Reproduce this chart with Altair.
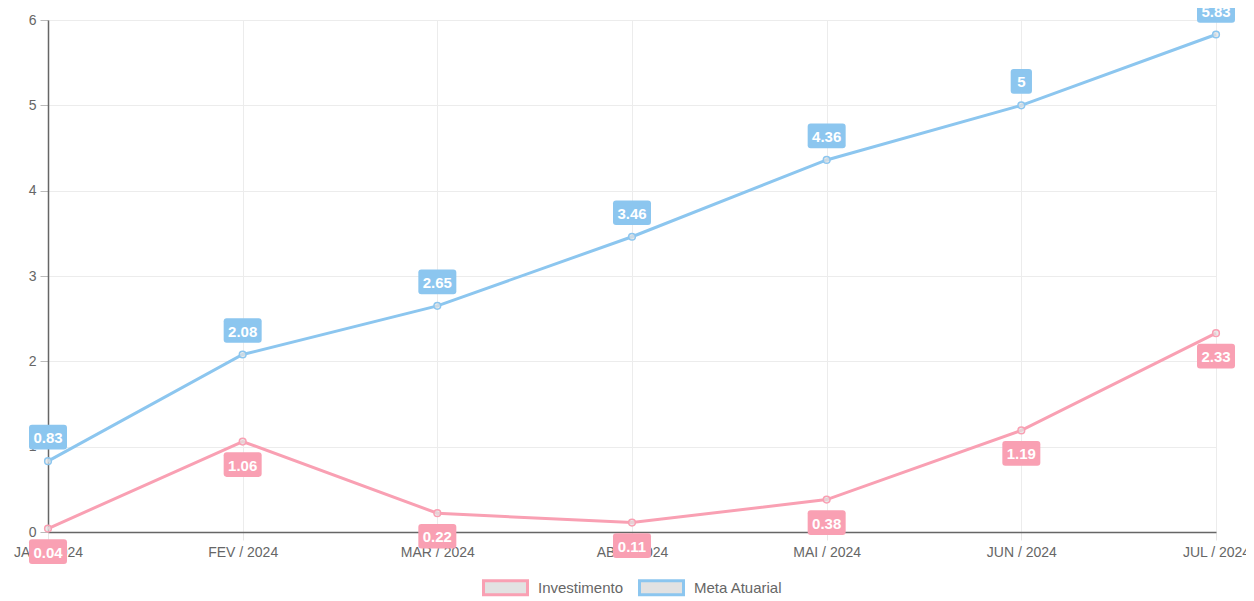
import altair as alt
import pandas as pd

meses = ["JAN / 2024", "FEV / 2024", "MAR / 2024", "ABR / 2024",
         "MAI / 2024", "JUN / 2024", "JUL / 2024"]
investimento = [0.04, 1.06, 0.22, 0.11, 0.38, 1.19, 2.33]
meta_atuarial = [0.83, 2.08, 2.65, 3.46, 4.36, 5, 5.83]
series = ["Investimento", "Meta Atuarial"]
cores = ["#f9a0b3", "#8cc6ef"]

rows = []
for m, v in zip(meses, investimento):
    rows.append({"mes": m, "serie": "Investimento", "valor": v})
for m, v in zip(meses, meta_atuarial):
    rows.append({"mes": m, "serie": "Meta Atuarial", "valor": v})
df = pd.DataFrame(rows)
df["rotulo"] = df["valor"].map(lambda v: f"{v:g}")
df["caixa"] = df["rotulo"].map(lambda s: "larga" if len(s) > 1 else "estreita")

FONT = "Liberation Sans"

box_wide = "M-0.84,-0.65L0.84,-0.65Q1,-0.65 1,-0.49L1,0.49Q1,0.65 0.84,0.65L-0.84,0.65Q-1,0.65 -1,0.49L-1,-0.49Q-1,-0.65 -0.84,-0.65Z"
box_narrow = "M-0.4,-0.65L0.4,-0.65Q0.56,-0.65 0.56,-0.49L0.56,0.49Q0.56,0.65 0.4,0.65L-0.4,0.65Q-0.56,0.65 -0.56,0.49L-0.56,-0.49Q-0.56,-0.65 -0.4,-0.65Z"
legend_shape = "M-2.2,-0.7L2.2,-0.7L2.2,0.7L-2.2,0.7Z"

x_enc = alt.X("mes:N", sort=meses, title=None,
              scale=alt.Scale(type="point", padding=0),
              axis=alt.Axis(labelAngle=0, labelColor="#666", labelFontSize=14,
                            labelFont=FONT, labelPadding=5, tickSize=8,
                            tickColor="#e6e6e6", grid=True, gridColor="#ececec",
                            domainColor="#666", domainWidth=1.5))
y_enc = alt.Y("valor:Q", title=None,
              scale=alt.Scale(domain=[0, 6], nice=False),
              axis=alt.Axis(values=[0, 1, 2, 3, 4, 5, 6], format="d",
                            labelColor="#666", labelFontSize=14, labelFont=FONT,
                            labelPadding=4, tickSize=8, tickColor="#bbbbbb",
                            gridColor="#ececec", domainColor="#666",
                            domainWidth=1.5))
serie_scale = alt.Scale(domain=series, range=cores)
stroke_enc = alt.Stroke("serie:N", scale=serie_scale,
                        legend=alt.Legend(title=None, orient="none", direction="horizontal",
                                          legendX=446, legendY=556,
                                          symbolType=legend_shape, symbolSize=400,
                                          symbolStrokeWidth=3, symbolOpacity=1,
                                          symbolFillColor="#e2e2e2",
                                          labelColor="#666", labelFontSize=15, labelFont=FONT,
                                          columnPadding=9, labelOffset=21))

base = alt.Chart(df)

lines = base.mark_line(strokeWidth=3).encode(x=x_enc, y=y_enc, stroke=stroke_enc)
points = base.mark_point(filled=False, fill="#e2e2e2", fillOpacity=0.7,
                         strokeWidth=1.5, size=45, opacity=1).encode(
    x=x_enc, y=y_enc, stroke=alt.Stroke("serie:N", scale=serie_scale))

def labels(serie, cor, dy):
    sub = base.transform_filter(alt.datum.serie == serie)
    boxes = sub.mark_point(filled=True, size=1444, opacity=1, yOffset=dy, color=cor).encode(
        x=x_enc, y=y_enc,
        shape=alt.Shape("caixa:N", scale=alt.Scale(domain=["larga", "estreita"],
                                                    range=[box_wide, box_narrow]),
                        legend=None))
    texts = sub.mark_text(color="white", fontWeight="bold", fontSize=15, font=FONT,
                          baseline="middle", dy=dy + 1).encode(
        x=x_enc, y=y_enc, text="rotulo:N")
    return boxes + texts

chart = alt.layer(
    lines, points,
    labels(series[0], cores[0], 23),
    labels(series[1], cores[1], -24)
).properties(
    width=1168, height=512,
    autosize=alt.AutoSizeParams(type="none"),
    padding={"left": 40, "top": 12, "right": 30, "bottom": 68},
).configure_view(stroke=None)

chart.save("out.html", embed_options={"renderer": "svg", "actions": False})
